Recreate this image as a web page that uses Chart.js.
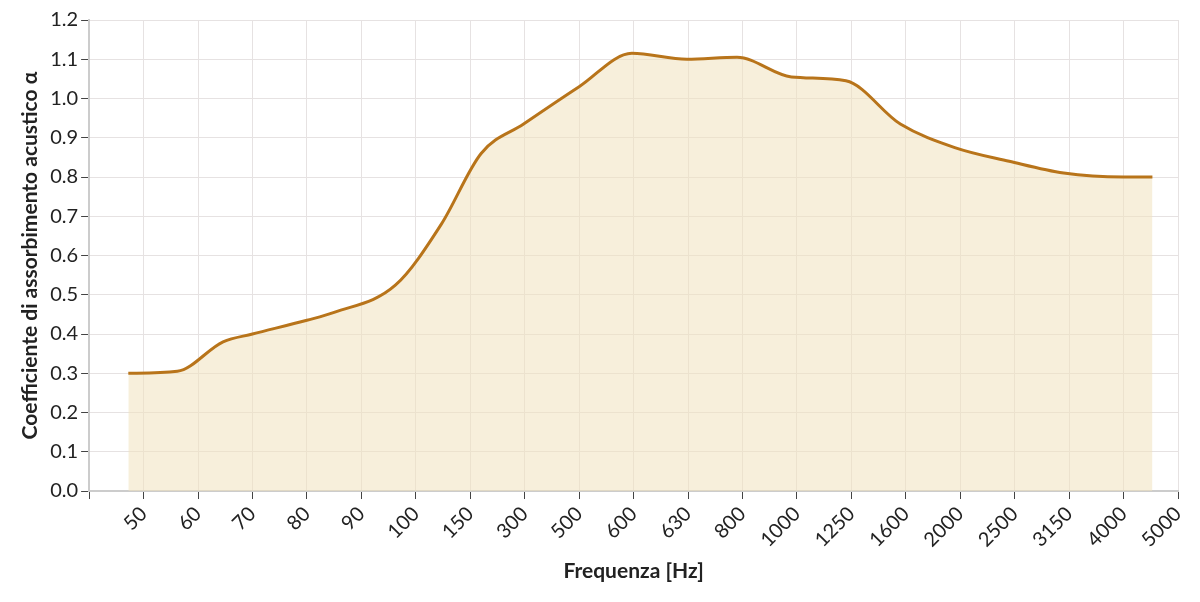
<!DOCTYPE html>
<html><head><meta charset="utf-8">
<script src="https://cdn.jsdelivr.net/npm/chart.js@4"></script>
<style>body{margin:0;background:#fff}#w{width:1200px;height:602px}</style>
</head><body><div id="w"><canvas id="c"></canvas></div>
<script>
const categories=['50','60','70','80','90','100','150','300','500','600','630','800','1000','1250','1600','2000','2500','3150','4000','5000'];
const xPos=[-0.28,0.62,1.46,2.0,3.0,3.5,4.63,5.47,6.2,6.98,8.0,8.97,9.98,10.9,11.9,12.9,13.9,14.9,15.9,16.9,18.0,18.53];
const absorption=[0.30,0.305,0.38,0.40,0.435,0.455,0.525,0.68,0.86,0.935,1.03,1.115,1.10,1.105,1.055,1.045,0.935,0.875,0.84,0.81,0.80,0.80];
const pts=xPos.map((x,i)=>({x:x,y:absorption[i]}));
Chart.defaults.font.family='Lato';
new Chart(document.getElementById('c'),{type:'line',
data:{datasets:[{data:pts,borderColor:'#b8741a',borderWidth:3,backgroundColor:'rgba(240,225,190,0.55)',fill:'origin',pointRadius:0,cubicInterpolationMode:'monotone'}]},
options:{responsive:true,maintainAspectRatio:false,animation:false,
layout:{padding:{top:20,right:22,left:14,bottom:14}},
plugins:{legend:{display:false},tooltip:{enabled:false}},
scales:{
x:{type:'linear',min:-1,max:19,afterBuildTicks:a=>{a.ticks=[];for(let i=-1;i<=19;i++)a.ticks.push({value:i});},
ticks:{autoSkip:false,maxRotation:45,minRotation:45,color:'#222',font:{size:20},callback:v=>v>=0?categories[v]:''},
grid:{color:'#e6e2e2',tickColor:'#444',tickLength:8},border:{color:'#ccc',width:2},
title:{display:true,text:'Frequenza [Hz]',color:'#222',font:{size:21,weight:'bold'}}},
y:{min:0,max:1.2,ticks:{stepSize:0.1,color:'#222',font:{size:20},callback:v=>v.toFixed(1)},
grid:{color:'#e6e2e2',tickColor:'#444',tickLength:8},border:{color:'#ccc',width:2},
title:{display:true,text:'Coefficiente di assorbimento acustico α',color:'#222',font:{size:21,weight:'bold'}}}
}}});
</script></body></html>
